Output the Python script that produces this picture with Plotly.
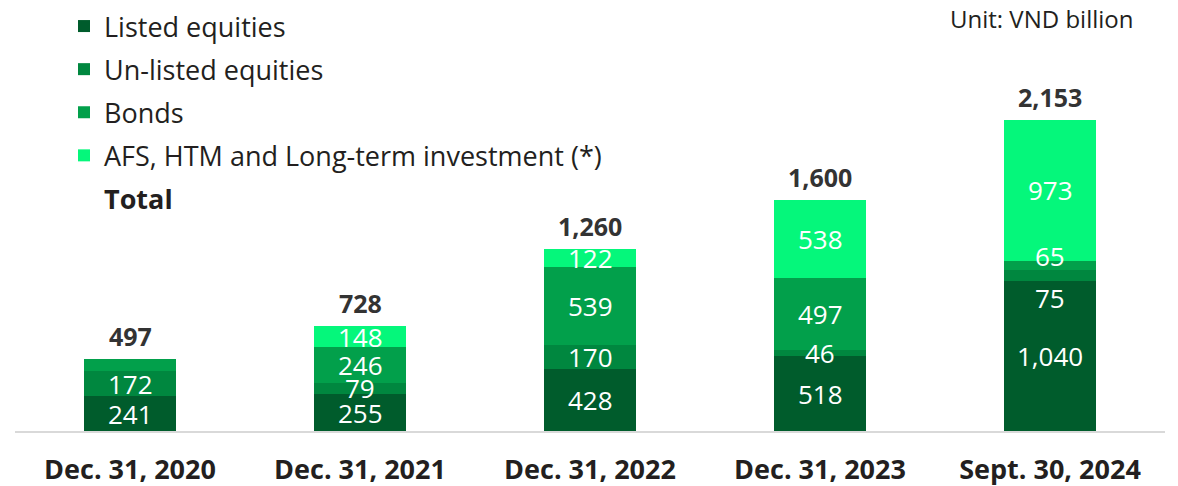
import plotly.graph_objects as go

categories = ["Dec. 31, 2020", "Dec. 31, 2021", "Dec. 31, 2022", "Dec. 31, 2023", "Sept. 30, 2024"]
listed = [241, 255, 428, 518, 1040]
unlisted = [172, 79, 170, 46, 75]
bonds = [84, 246, 539, 497, 65]
afs = [0, 148, 122, 538, 973]
totals = [497, 728, 1260, 1600, 2153]
# which segment values are printed (2020 bonds and AFS are not labelled)
show_listed = [True, True, True, True, True]
show_unlisted = [True, True, True, True, True]
show_bonds = [False, True, True, True, True]
show_afs = [False, True, True, True, True]

series = [
    ("Listed equities", listed, "#005C2C", show_listed),
    ("Un-listed equities", unlisted, "#00873F", show_unlisted),
    ("Bonds", bonds, "#02A04B", show_bonds),
    ("AFS, HTM and Long-term investment (*)", afs, "#05F77B", show_afs),
]
# small label nudges (pixels) seen in the reference for the 2024 bar
label_shift = {(1, 4): -23, (2, 4): 9}

FONT = "Open Sans"
TXT = "#231F20"
FS = 26

fig = go.Figure()
for i, (name, vals, col, _) in enumerate(series):
    fig.add_trace(go.Bar(
        x=categories, y=vals, name=name, marker_color=col,
        marker_line_width=0, width=0.4, legendgroup=f"g{i}",
        hoverinfo="skip",
    ))

# Invisible trace just to add the bold "Total" legend entry
fig.add_trace(go.Scatter(
    x=categories, y=totals, mode="lines", name="<b>Total</b>",
    line=dict(color="rgba(0,0,0,0)"), legendgroup="gt", hoverinfo="skip",
))

annotations = []
cum = [0] * len(categories)
for si, (name, vals, col, show) in enumerate(series):
    for ci, v in enumerate(vals):
        mid = cum[ci] + v / 2
        if show[ci]:
            annotations.append(dict(
                x=categories[ci], y=mid, text=f"{v:,}", showarrow=False,
                font=dict(family=FONT, size=FS, color="white"),
                yshift=label_shift.get((si, ci), 0), yanchor="middle",
            ))
        cum[ci] += v

for ci, t in enumerate(totals):
    annotations.append(dict(
        x=categories[ci], y=cum[ci], text=f"<b>{t:,}</b>", showarrow=False,
        font=dict(family=FONT, size=FS - 1, color="#333333"),
        yshift=23, yanchor="middle",
    ))

annotations.append(dict(
    xref="paper", yref="paper", x=(1135 - 15) / 1150, y=(431 - 18) / 431,
    xanchor="right", yanchor="middle",
    text="Unit: VND billion", showarrow=False,
    font=dict(family=FONT, size=FS - 2, color=TXT),
))

fig.update_layout(
    barmode="stack",
    width=1178, height=486,
    margin=dict(l=15, r=13, t=0, b=55),
    paper_bgcolor="white", plot_bgcolor="white",
    font=dict(family=FONT, color=TXT),
    showlegend=True,
    legend=dict(
        x=(64 - 15) / 1150, xref="paper", y=1 - 2 / 431, yanchor="top", xanchor="left",
        font=dict(family=FONT, size=27, color=TXT),
        bgcolor="rgba(0,0,0,0)", traceorder="grouped", tracegroupgap=5,
        itemclick=False, itemdoubleclick=False,
    ),
    annotations=annotations,
    xaxis=dict(
        range=[-0.5, 4.5], showline=True, linecolor="#D9D9D9", linewidth=2,
        ticks="", tickfont=dict(family=FONT, size=27, color=TXT),
        ticklabelstandoff=14, showgrid=False, zeroline=False,
        tickvals=categories, ticktext=[f"<b>{c}</b>" for c in categories],
    ),
    yaxis=dict(range=[0, 2983], visible=False, showgrid=False, zeroline=False),
)

fig.write_html(
    "out.html",
    config={"displayModeBar": False},
    post_script="document.body.style.margin='0';document.body.style.overflow='hidden';",
)
